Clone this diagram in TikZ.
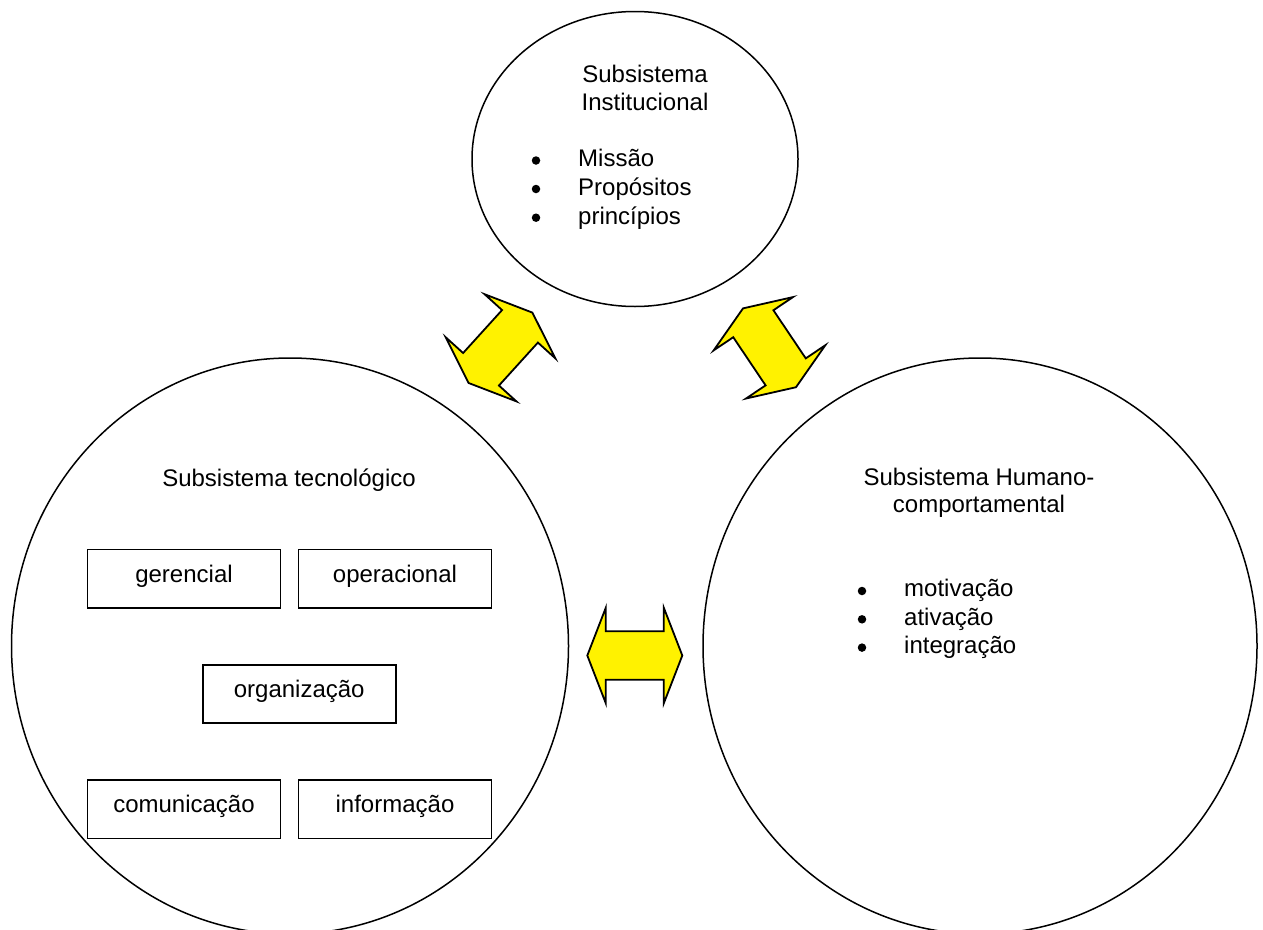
\documentclass[tikz,border=0pt]{standalone}
\usepackage{fontspec}
\setmainfont{Liberation Sans}
\usetikzlibrary{shapes.geometric}
\begin{document}
\begin{tikzpicture}[x=1pt,y=-1pt,
  every node/.style={font=\fontsize{24}{28}\selectfont, inner sep=0pt},
  sub/.style={ellipse, draw, line width=1.5pt, minimum width=#1},
  item/.style={draw, line width=1.8pt, minimum width=193pt, minimum height=58.5pt, text height=12pt, text depth=5pt},
  ttl/.style={anchor=base},
  dot/.style={circle, fill=black, minimum size=8.5pt},
  itm/.style={anchor=base west},
  dblarr/.pic={\draw[line width=1.8pt, line join=miter, fill=yellow]
     (-47.5,0) -- (-29,-47.8) -- (-29,-24.2) -- (29,-24.2) -- (29,-47.8) -- (47.5,0)
     -- (29,47.8) -- (29,24.2) -- (-29,24.2) -- (-29,47.8) -- cycle;}]
\useasboundingbox (0,0) rectangle (1263,929);

% circles
\node[sub=326pt, minimum height=295pt] (inst) at (635,159) {};
\node[sub=557pt, minimum height=576pt] (tec) at (290,646) {};
\node[sub=554pt, minimum height=576pt] (hum) at (980,646) {};

% institucional
\node[ttl] (t1a) at (645,82.7) {Subsistema};
\node[ttl] (t1b) at (645,110.7) {Institucional};
\node[dot] (b1) at (536,160.5) {};
\node[dot] (b2) at (536,189) {};
\node[dot] (b3) at (536,217.7) {};
\node[itm] (i1) at (578,166.7) {Missão};
\node[itm] (i2) at (578,195.3) {Propósitos};
\node[itm] (i3) at (578,224) {princípios};

% tecnologico
\node[ttl] (t2) at (289,486.5) {Subsistema tecnológico};
\node[item] (ger) at (184,578.7) {gerencial};
\node[item] (ope) at (395,578.7) {operacional};
\node[item] (org) at (299.2,694) {organização};
\node[item] (com) at (184,809.2) {comunicação};
\node[item] (inf) at (395,809.2) {informação};

% humano
\node[ttl] (t3a) at (979,485) {Subsistema Humano-};
\node[ttl] (t3b) at (979,512) {comportamental};
\node[dot] (b4) at (862,591) {};
\node[dot] (b5) at (862,619.3) {};
\node[dot] (b6) at (862,647.6) {};
\node[itm] (i4) at (904,596.7) {motivação};
\node[itm] (i5) at (904,625) {ativação};
\node[itm] (i6) at (904,653.3) {integração};

% double block arrows
\pic[rotate=47.8] at (500.5,347.8) {dblarr};
\pic[rotate=-56.1] at (769.5,347.8) {dblarr};
\pic at (634.8,655.5) {dblarr};
\end{tikzpicture}
\end{document}
